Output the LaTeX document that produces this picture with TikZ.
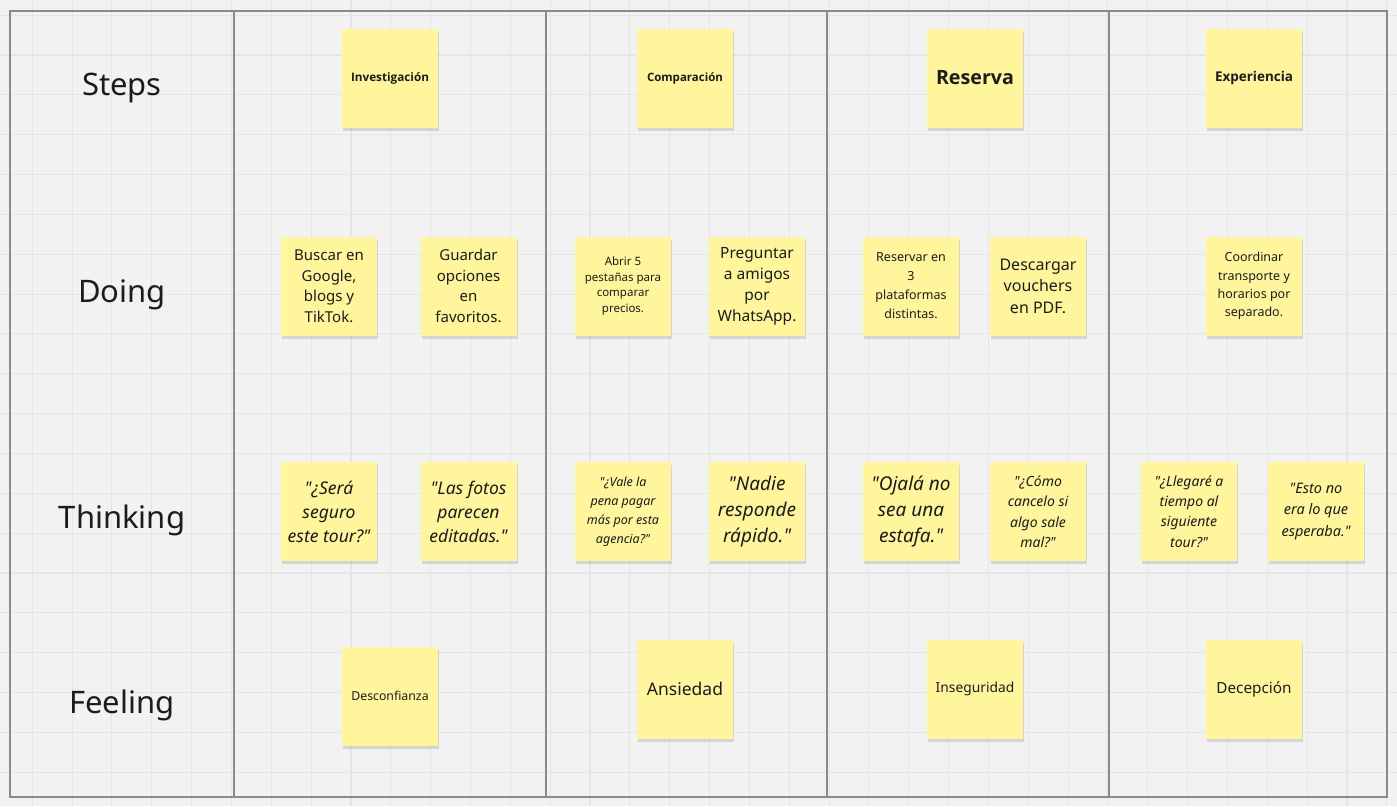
\documentclass[tikz,border=0pt]{standalone}
\usepackage{fontspec}
\setmainfont{Noto Sans}[Ligatures=TeXOff]
\newfontfamily\boldfam{Open Sans}[Ligatures=TeXOff]
\usetikzlibrary{shadows}
\definecolor{bg}{HTML}{F2F2F2}
\definecolor{gridc}{HTML}{E5E5E5}
\definecolor{framec}{HTML}{8A8A8A}
\definecolor{notey}{HTML}{FFF59C}
\definecolor{txt}{HTML}{1C1C1C}
\newcommand{\fsz}[2]{\fontsize{#1}{#2}\selectfont}
\newcommand{\stepword}[1]{\resizebox{78pt}{!}{\boldfam\bfseries\fsz{12}{14}#1}}
\begin{document}
\begin{tikzpicture}[x=1pt,y=-1pt,
  note/.style={fill=notey, minimum width=96pt, minimum height=99pt, inner sep=0pt,
    align=center, text=txt,
    drop shadow={shadow xshift=1pt, shadow yshift=-3pt, opacity=0.12, fill=black}},
  rowlabel/.style={text=txt, font=\fsz{31}{36}},
  think/.style={note, font=\itshape}
]
\useasboundingbox (0,0) rectangle (1397,806);
\fill[bg] (0,0) rectangle (1397,806);
% grid
\foreach \i in {0,...,35} {
  \draw[gridc, line width=1.1pt] ({-7.6+39.84*\i},0) -- ({-7.6+39.84*\i},806);
}
\foreach \j in {0,...,20} {
  \draw[gridc, line width=1.1pt] (0,{15.2+39.84*\j}) -- (1397,{15.2+39.84*\j});
}
% frame
\draw[framec, line width=2pt] (10,11) rectangle (1387,797);
\foreach \xx in {234,546,827,1109} {
  \draw[framec, line width=2pt] (\xx,11) -- (\xx,797);
}
% row labels
\node[rowlabel] (lsteps) at (122,88) {Steps};
\node[rowlabel] (ldoing) at (122,295) {Doing};
\node[rowlabel] (lthink) at (122,520) {Thinking};
\node[rowlabel] (lfeel) at (122,705) {Feeling};
% steps
\node[note] (s1) at (390,78) {\stepword{Investigación}};
\node[note] (s2) at (685,78) {\resizebox{76pt}{!}{\boldfam\bfseries\fsz{12}{14}Comparación}};
\node[note] (s3) at (975,78) {\stepword{Reserva}};
\node[note] (s4) at (1254,78) {\stepword{Experiencia}};
% doing
\node[note, font=\fsz{15}{20.5}] (d1) at (329,286) {Buscar en\\Google,\\blogs y\\TikTok.};
\node[note, font=\fsz{15}{20.5}] (d2) at (468.5,286) {Guardar\\opciones\\en\\favoritos.};
\node[note, font=\fsz{11.5}{15.5}] (d3) at (623,286) {Abrir 5\\pestañas para\\comparar\\precios.};
\node[note, font=\fsz{15.5}{21}] (d4) at (757,286) {Preguntar\\a amigos\\por\\WhatsApp.};
\node[note, font=\fsz{12.5}{19}] (d5) at (911,286) {Reservar en\\3\\plataformas\\distintas.};
\node[note, font=\fsz{16}{21.5}] (d6) at (1038,286) {Descargar\\vouchers\\en PDF.};
\node[note, font=\fsz{12.5}{18.3}] (d7) at (1254,286) {Coordinar\\transporte y\\horarios por\\separado.};
% thinking
\node[think, font=\itshape\fsz{17.5}{24}] (t1) at (329,511.5) {"¿Será\\seguro\\este tour?"};
\node[think, font=\itshape\fsz{17.5}{24}] (t2) at (468.5,511.5) {"Las fotos\\parecen\\editadas."};
\node[think, font=\itshape\fsz{12.5}{19}] (t3) at (623,511.5) {"¿Vale la\\pena pagar\\más por esta\\agencia?"};
\node[think, font=\itshape\fsz{19}{26}] (t4) at (757,511.5) {"Nadie\\responde\\rápido."};
\node[think, font=\itshape\fsz{19}{26}] (t5) at (911,511.5) {"Ojalá no\\sea una\\estafa."};
\node[think, font=\itshape\fsz{14}{20.5}] (t6) at (1038,511.5) {"¿Cómo\\cancelo si\\algo sale\\mal?"};
\node[think, font=\itshape\fsz{14}{20.3}] (t7) at (1189,511.5) {"¿Llegaré a\\tiempo al\\siguiente\\tour?"};
\node[think, font=\itshape\fsz{14.5}{21.5}] (t8) at (1316,511.5) {"Esto no\\era lo que\\esperaba."};
% feeling
\node[note, font=\fsz{12.3}{15}] (f1) at (390,696) {Desconfianza};
\node[note, font=\fsz{17.5}{21}] (f2) at (685,689) {Ansiedad};
\node[note, font=\fsz{13.8}{17}] (f3) at (975,689) {Inseguridad};
\node[note, font=\fsz{15.3}{18}] (f4) at (1254,689) {Decepción};
\end{tikzpicture}
\end{document}
